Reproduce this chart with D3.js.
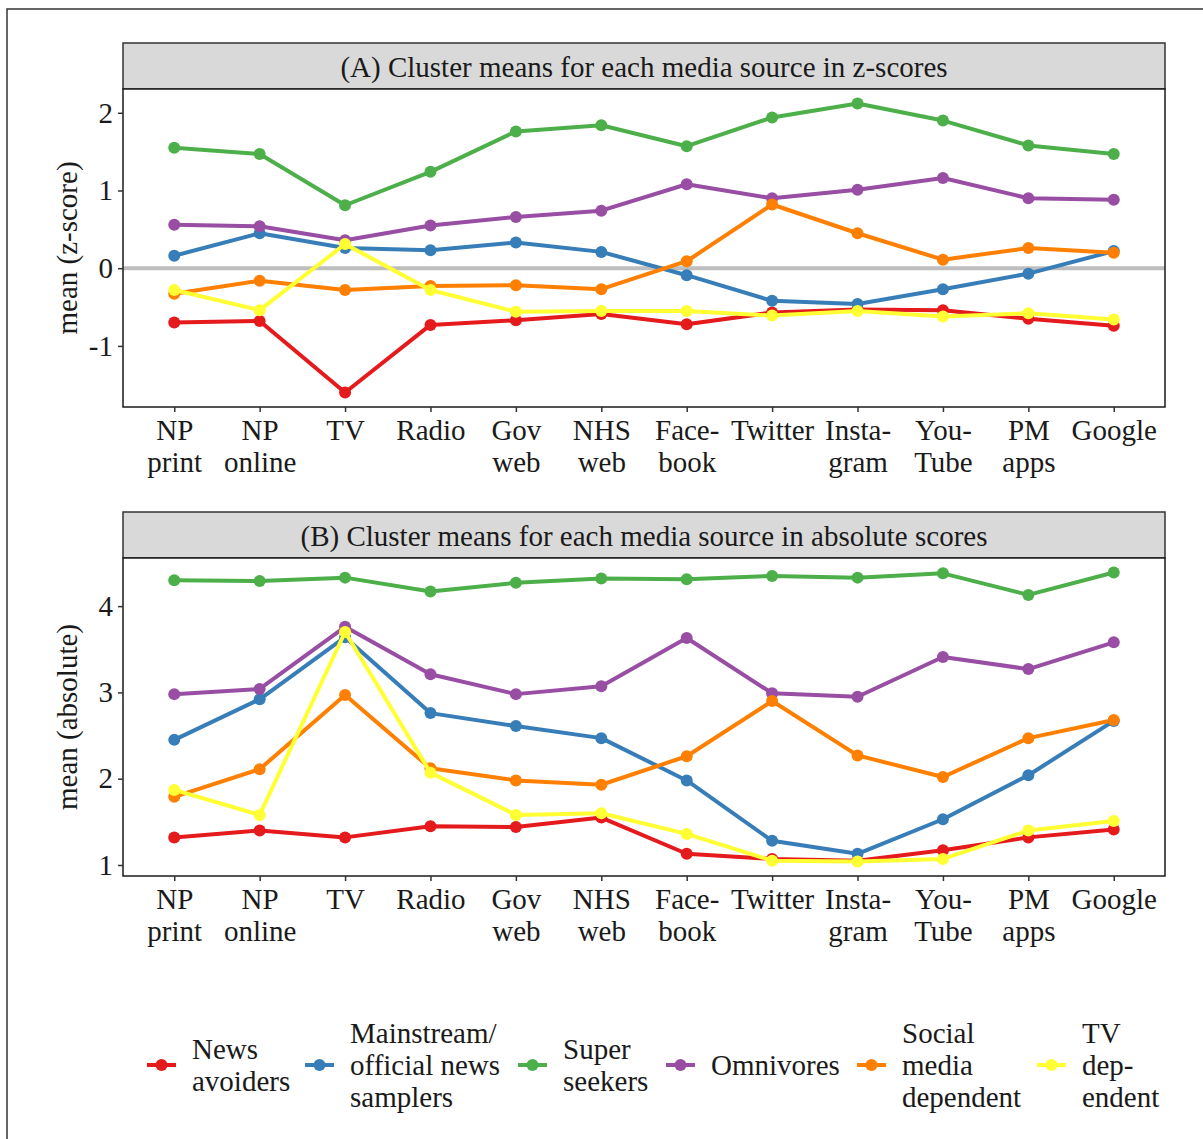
<!DOCTYPE html>
<html>
<head>
<meta charset="utf-8">
<script src="https://cdn.jsdelivr.net/npm/d3@7"></script>
<style>
  html, body { margin: 0; padding: 0; background: #fff; }
  svg { display: block; font-family: "Liberation Serif", "Times New Roman", serif; }
</style>
</head>
<body>
<svg id="chart" width="1203" height="1139"></svg>
<script>
// ---------- DATA ----------
const categories = ["NP print","NP online","TV","Radio","Gov web","NHS web","Facebook","Twitter","Instagram","YouTube","PM apps","Google"];
const tickLabels = [["NP","print"],["NP","online"],["TV"],["Radio"],["Gov","web"],["NHS","web"],["Face-","book"],["Twitter"],["Insta-","gram"],["You-","Tube"],["PM","apps"],["Google"]];

const seriesNames = ["News avoiders","Mainstream/official news samplers","Super seekers","Omnivores","Social media dependent","TV dependent"];
const legendLabels = [["News","avoiders"],["Mainstream/","official news","samplers"],["Super","seekers"],["Omnivores"],["Social","media","dependent"],["TV","dep-","endent"]];
const seriesColors = ["#E41A1C","#377EB8","#4DAF4A","#984EA3","#FF7F00","#FFFF33"];

// Panel A: z-scores
const zNewsAvoiders = [-0.70,-0.68,-1.60,-0.73,-0.67,-0.59,-0.72,-0.57,-0.53,-0.54,-0.65,-0.74];
const zMainstream   = [0.16,0.45,0.26,0.23,0.33,0.21,-0.09,-0.42,-0.46,-0.27,-0.07,0.22];
const zSuperSeekers = [1.55,1.47,0.81,1.24,1.76,1.84,1.57,1.94,2.12,1.90,1.58,1.47];
const zOmnivores    = [0.56,0.54,0.36,0.55,0.66,0.74,1.08,0.90,1.01,1.16,0.90,0.88];
const zSocialMedia  = [-0.33,-0.16,-0.28,-0.23,-0.22,-0.27,0.09,0.82,0.45,0.11,0.26,0.20];
const zTVDependent  = [-0.28,-0.54,0.31,-0.28,-0.56,-0.55,-0.55,-0.61,-0.55,-0.62,-0.58,-0.66];

// Panel B: absolute scores
const aNewsAvoiders = [1.32,1.40,1.32,1.45,1.44,1.55,1.13,1.07,1.05,1.17,1.32,1.41];
const aMainstream   = [2.45,2.92,3.64,2.76,2.61,2.47,1.98,1.28,1.13,1.53,2.04,2.67];
const aSuperSeekers = [4.30,4.29,4.33,4.17,4.27,4.32,4.31,4.35,4.33,4.38,4.13,4.39];
const aOmnivores    = [2.98,3.04,3.76,3.21,2.98,3.07,3.63,2.99,2.95,3.41,3.27,3.58];
const aSocialMedia  = [1.79,2.11,2.97,2.12,1.98,1.93,2.26,2.90,2.27,2.02,2.47,2.68];
const aTVDependent  = [1.87,1.58,3.70,2.07,1.58,1.60,1.36,1.05,1.04,1.07,1.40,1.51];

const zTicks = [-1,0,1,2];
const aTicks = [1,2,3,4];

const panels = [
  { title: "(A) Cluster means for each media source in z-scores", yTitle: "mean (z-score)",
    series: [zNewsAvoiders,zMainstream,zSuperSeekers,zOmnivores,zSocialMedia,zTVDependent],
    ticks: zTicks, zeroLine: true, top: 43 },
  { title: "(B) Cluster means for each media source in absolute scores", yTitle: "mean (absolute)",
    series: [aNewsAvoiders,aMainstream,aSuperSeekers,aOmnivores,aSocialMedia,aTVDependent],
    ticks: aTicks, zeroLine: false, top: 512 }
];

// ---------- LAYOUT ----------
const svg = d3.select("#chart");
const FONT = 29;
const left = 123, right = 1165;
const stripH = 46, plotH = 318;

// outer border (top & left)
svg.append("rect").attr("x", 7).attr("y", 9).attr("width", 1300).attr("height", 1300)
  .attr("fill", "none").attr("stroke", "#333").attr("stroke-width", 1.5);

const x = d3.scalePoint().domain(categories).range([left, right]).padding(0.6);

panels.forEach(p => {
  const stripTop = p.top, plotTop = p.top + stripH, plotBottom = plotTop + plotH;
  const all = p.series.flat();
  const mn = d3.min(all), mx = d3.max(all), pad = (mx - mn) * 0.05;
  const y = d3.scaleLinear().domain([mn - pad, mx + pad]).range([plotBottom, plotTop]);

  const g = svg.append("g");

  // strip
  g.append("rect").attr("x", left).attr("y", stripTop).attr("width", right - left).attr("height", stripH)
    .attr("fill", "#d9d9d9").attr("stroke", "#333").attr("stroke-width", 1.5);
  g.append("text").attr("x", (left + right) / 2).attr("y", stripTop + stripH / 2 + 1)
    .attr("text-anchor", "middle").attr("dominant-baseline", "central")
    .attr("font-size", FONT).attr("fill", "#1a1a1a").text(p.title);

  // panel background
  g.append("rect").attr("x", left).attr("y", plotTop).attr("width", right - left).attr("height", plotH)
    .attr("fill", "#fff");

  // zero line
  if (p.zeroLine) {
    g.append("line").attr("x1", left).attr("x2", right).attr("y1", y(0)).attr("y2", y(0))
      .attr("stroke", "#bebebe").attr("stroke-width", 4);
  }

  // lines and points
  const line = d3.line().x((d, i) => x(categories[i])).y(d => y(d));
  p.series.forEach((vals, si) => {
    g.append("path").datum(vals).attr("d", line).attr("fill", "none")
      .attr("stroke", seriesColors[si]).attr("stroke-width", 4).attr("stroke-linejoin", "round");
    g.selectAll(null).data(vals).enter().append("circle")
      .attr("cx", (d, i) => x(categories[i])).attr("cy", d => y(d)).attr("r", 6)
      .attr("fill", seriesColors[si]);
  });

  // panel border
  g.append("rect").attr("x", left).attr("y", plotTop).attr("width", right - left).attr("height", plotH)
    .attr("fill", "none").attr("stroke", "#1a1a1a").attr("stroke-width", 1.5);

  // y axis
  const yAxis = g.append("g").attr("transform", `translate(${left},0)`)
    .call(d3.axisLeft(y).tickValues(p.ticks).tickSize(5).tickPadding(5).tickFormat(d => String(d)));
  yAxis.select(".domain").remove();
  yAxis.selectAll("line").attr("stroke", "#333").attr("stroke-width", 1.5);
  yAxis.selectAll("text").attr("font-size", FONT).attr("font-family", "Liberation Serif").attr("fill", "#1a1a1a");

  // x axis
  const xAxis = g.append("g").attr("transform", `translate(0,${plotBottom})`)
    .call(d3.axisBottom(x).tickSize(5).tickFormat(""));
  xAxis.select(".domain").remove();
  xAxis.selectAll("line").attr("stroke", "#333").attr("stroke-width", 1.5);
  xAxis.selectAll(".tick").each(function(d, i) {
    const t = d3.select(this).append("text").attr("text-anchor", "middle")
      .attr("font-size", FONT).attr("font-family", "Liberation Serif").attr("fill", "#1a1a1a");
    tickLabels[i].forEach((s, k) => {
      t.append("tspan").attr("x", 0).attr("y", 23 + k * 32).attr("dominant-baseline", "central").text(s);
    });
  });

  // y title
  g.append("text").attr("transform", `translate(67,${(plotTop + plotBottom) / 2}) rotate(-90)`)
    .attr("text-anchor", "middle").attr("dominant-baseline", "central")
    .attr("font-size", FONT).attr("fill", "#1a1a1a").text(p.yTitle);
});

// ---------- LEGEND ----------
const legendY = 1065;
const keyX = [147, 305, 518, 666, 857, 1037];
const lg = svg.append("g");
seriesNames.forEach((name, i) => {
  const kx = keyX[i];
  lg.append("line").attr("x1", kx).attr("x2", kx + 29).attr("y1", legendY).attr("y2", legendY)
    .attr("stroke", seriesColors[i]).attr("stroke-width", 4);
  lg.append("circle").attr("cx", kx + 14.5).attr("cy", legendY).attr("r", 6).attr("fill", seriesColors[i]);
  const lines = legendLabels[i];
  const t = lg.append("text").attr("font-size", FONT).attr("fill", "#1a1a1a");
  lines.forEach((s, k) => {
    t.append("tspan").attr("x", kx + 45).attr("y", legendY + (k - (lines.length - 1) / 2) * 32)
      .attr("dominant-baseline", "central").text(s);
  });
});
</script>
</body>
</html>
